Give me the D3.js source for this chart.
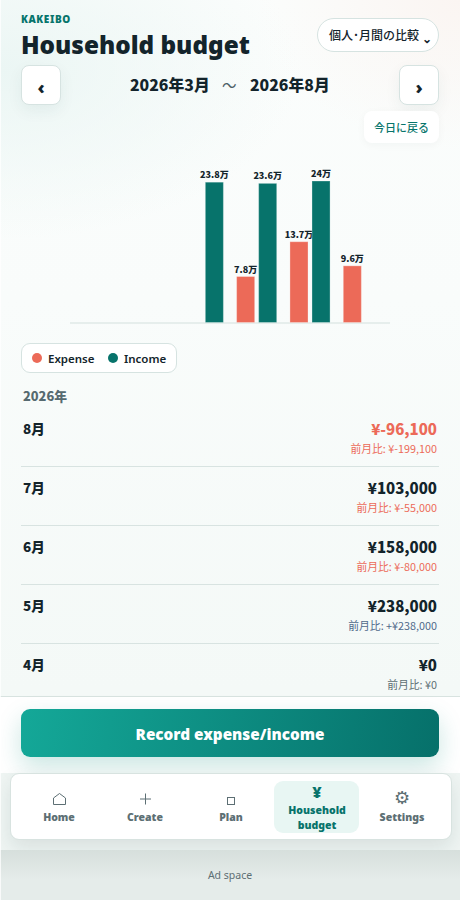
<!DOCTYPE html>
<html lang="ja"><head><meta charset="utf-8">
<script src="https://cdn.jsdelivr.net/npm/d3@7/dist/d3.min.js"></script>
<style>
*{box-sizing:border-box}
html,body{margin:0;padding:0;width:460px;height:900px;overflow:hidden}
body{position:relative;font-family:"Noto Sans CJK JP",sans-serif;color:#13242b;background:#f6fbf9}
.abs{position:absolute;white-space:nowrap}
.lat{font-family:"Noto Sans","Noto Sans CJK JP",sans-serif}
#bg{position:absolute;left:0;top:0;width:460px;height:900px;
background:radial-gradient(ellipse 300px 170px at 0px 70px,#ebf6f4 0%,rgba(235,246,244,0) 100%),radial-gradient(ellipse 200px 150px at 460px 0px,#fbf5f2 0%,rgba(251,245,242,0) 100%),linear-gradient(180deg,#fbfdfc 0,#f9fcfb 300px,#f4f9f7 690px)}
.navbtn{position:absolute;top:65px;width:40px;height:40px;background:#fff;border:1px solid #d6e3e1;border-radius:8px;box-shadow:0 6px 16px rgba(19,60,60,.06);text-align:center;font-weight:900;font-size:18px;line-height:42px}
#rows{position:absolute;left:0;top:385px;width:460px;height:311px;overflow:hidden}
.row{position:absolute;left:21px;width:418px;height:59px;border-bottom:1px solid #d8e3e1}
#footer{position:absolute;left:0;top:696px;width:460px;height:78px;border-top:1px solid #d8e3e0;background:#fff}
#cta{position:absolute;left:21px;top:709px;width:418px;height:48px;border-radius:9px;background:linear-gradient(100deg,#14a898,#06706a);box-shadow:0 10px 24px rgba(15,140,125,.22);color:#fff;font-weight:900;font-size:15.3px;line-height:50px;text-align:center}
#navbg{position:absolute;left:0;top:773px;width:460px;height:77px;background:#eff5f3}
#nav{position:absolute;left:10px;top:773px;width:442px;height:67px;background:#fff;border:1px solid #d8e3e0;border-radius:9px;box-shadow:0 8px 20px rgba(19,50,50,.1)}
#active{position:absolute;left:274px;top:781px;width:85px;height:52px;background:#e8f6f3;border-radius:9px}
.lbl{position:absolute;width:86px;text-align:center;font-size:10.5px;font-weight:900;color:#5d6f74;line-height:15px;white-space:normal}
.ico{position:absolute;width:86px;text-align:center;color:#5d6f74}
#ad{position:absolute;left:0;top:850px;width:460px;height:50px;background:linear-gradient(180deg,#d6dfdc,#e5ecea 60%);font-family:"Noto Sans",sans-serif;font-size:10.5px;color:#5d6f74;text-align:center;line-height:50px}
#edge{position:absolute;left:0;top:0;width:1px;height:900px;background:rgba(255,255,255,.75)}
</style></head><body>
<div id="bg"></div>
<div class="abs lat" style="left:21px;top:12px;font-size:10px;font-weight:900;letter-spacing:.6px;color:#07756c;line-height:14px">KAKEIBO</div>
<div class="abs lat" style="left:21px;top:27px;font-size:24.3px;font-weight:900;line-height:36px">Household budget</div>
<div class="abs" style="left:317px;top:18px;width:122px;height:34px;background:#fff;border:1px solid #d6e3e1;border-radius:17px;font-size:12px;font-weight:500;line-height:31px;padding-left:11px">個人･月間の比較<span class="abs lat" style="left:104px;top:4px;font-size:12px;font-weight:900">⌄</span></div>
<div class="navbtn lat" style="left:21px">‹</div>
<div class="navbtn lat" style="left:399px">›</div>
<div class="abs" style="left:130px;top:74px;font-size:15.8px;font-weight:900;line-height:22px" id="r1">2026年3月</div>
<div class="abs" style="left:222px;top:74px;font-size:14.5px;line-height:22px;color:#4e6066">〜</div>
<div class="abs" style="left:250px;top:74px;font-size:15.8px;font-weight:900;line-height:22px" id="r2">2026年8月</div>
<div class="abs" style="left:364px;top:111px;width:75px;height:32px;background:#fff;border-radius:8px;font-size:11px;font-weight:500;color:#07756c;text-align:center;line-height:32px;box-shadow:0 2px 8px rgba(19,60,60,.04)">今日に戻る</div>
<svg id="chart" style="position:absolute;left:0;top:160px" width="460" height="175"></svg>
<div class="abs" style="left:21px;top:343px;width:156px;height:30px;background:#fff;border:1px solid #d6e3e1;border-radius:9px"></div>
<div id="legend"></div>
<div class="abs" style="left:23px;top:387px;font-size:12.8px;font-weight:900;color:#566a70;line-height:18px">2026年</div>
<div id="rows"></div>
<div id="footer"></div>
<div id="navbg"></div>
<div id="cta" class="lat">Record expense/income</div>
<div id="nav"></div>
<div id="active"></div>
<div id="navitems"></div>
<svg id="icons" style="position:absolute;left:0;top:773px" width="460" height="67"></svg>
<div id="ad">Ad space</div>
<div id="edge"></div>
<script>
const months = ["3月","4月","5月","6月","7月","8月"];
const expense = [0,0,0,78000,137000,96100];
const income = [0,0,238000,236000,240000,0];
const seriesNames = ["Expense","Income"];
const seriesColors = ["#ec6a58","#07736b"];
const listMonths = ["8月","7月","6月","5月","4月"];
const listTotals = ["¥-96,100","¥103,000","¥158,000","¥238,000","¥0"];
const listDiffs = ["前月比: ¥-199,100","前月比: ¥-55,000","前月比: ¥-80,000","前月比: +¥238,000","前月比: ¥0"];
const navLabels = ["Home","Create","Plan","Household budget","Settings"];

const svg = d3.select("#chart");
const x0 = d3.scaleBand().domain(months).range([70,390]);
const x1 = d3.scaleBand().domain(seriesNames).range([0,x0.bandwidth()]).paddingInner(0.18).paddingOuter(0.3);
const y = d3.scaleLinear().domain([0,240000]).range([162.5,21]);
const fmt = v => (Math.round(v/1000)/10)+"万";
svg.append("line").attr("x1",70).attr("x2",390).attr("y1",163).attr("y2",163).attr("stroke","#e6eeec").attr("stroke-width",2);
seriesNames.forEach((s,k)=>{
  const vals = k===0?expense:income;
  const g = svg.append("g");
  months.forEach((m,i)=>{
    if(!vals[i]) return;
    const bx = x0(m)+x1(s);
    g.append("rect").attr("x",bx).attr("y",y(vals[i])).attr("width",x1.bandwidth()).attr("height",y(0)-y(vals[i])).attr("fill",seriesColors[k]).attr("stroke","rgba(255,255,255,.3)").attr("stroke-width",1);
    g.append("text").attr("x",bx+x1.bandwidth()/2).attr("y",y(vals[i])-4).attr("text-anchor","middle").attr("font-size",9).attr("font-weight",900).attr("fill","#13242b").text(fmt(vals[i]));
  });
});
const lg = d3.select("#legend");
[[32,48],[108,124]].forEach((p,i)=>{
  lg.append("div").attr("class","abs").style("left",p[0]+"px").style("top","353px").style("width","10px").style("height","10px").style("border-radius","50%").style("background",seriesColors[i]);
  lg.append("div").attr("class","abs lat").style("left",p[1]+"px").style("top","349px").style("font-size","11.5px").style("font-weight","600").style("line-height","20px").text(seriesNames[i]);
});
const rows = d3.select("#rows");
listMonths.forEach((m,i)=>{
  const neg = listDiffs[i].includes("¥-"), plus = listDiffs[i].includes("+");
  const r = rows.append("div").attr("class","row").style("top",(23+i*59)+"px");
  r.append("div").attr("class","abs").style("left","2px").style("top","10px").style("font-size","13.5px").style("font-weight","900").style("line-height","20px").text(m);
  r.append("div").attr("class","abs").style("right","2px").style("top","10px").style("font-size","15px").style("font-weight","900").style("line-height","22px").style("color",listTotals[i].includes("-")?"#ec6a58":"#13242b").text(listTotals[i]);
  r.append("div").attr("class","abs").style("right","2px").style("top","32px").style("font-size","10.8px").style("line-height","16px").style("color",neg?"#ec6a58":(plus?"#50698a":"#5d6f74")).text(listDiffs[i]);
});
const nav = d3.select("#navitems");
const cx = [59,145,231,317,402];
navLabels.forEach((l,i)=>{
  const act = i===3;
  if(act) nav.append("div").attr("class","ico lat").style("left",(cx[i]-43)+"px").style("top","782px").style("font-size","16px").style("line-height","20px").style("font-weight","900").style("color","#07736b").text("¥");
  if(i===4) nav.append("div").attr("class","ico").style("font-family","DejaVu Sans").style("left",(cx[i]-43)+"px").style("top","788px").style("font-size","18px").style("line-height","20px").text("⚙");
  nav.append("div").attr("class","lbl lat").style("left",(cx[i]-43)+"px").style("top",(act?803:810)+"px").style("color",act?"#07736b":"#5d6f74").html(act?"Household<br>budget":l);
});
const ic = d3.select("#icons").append("g").attr("fill","none").attr("stroke","#5d6f74").attr("stroke-width",1);
ic.append("path").attr("d","M53.5 31.5V25L59.5 20.5L65.5 25V31.5Z");
ic.append("path").attr("d","M140 26H151M145.5 20.5V31.5");
ic.append("rect").attr("x",227.5).attr("y",24.5).attr("width",7).attr("height",7);
</script>
</body></html>
